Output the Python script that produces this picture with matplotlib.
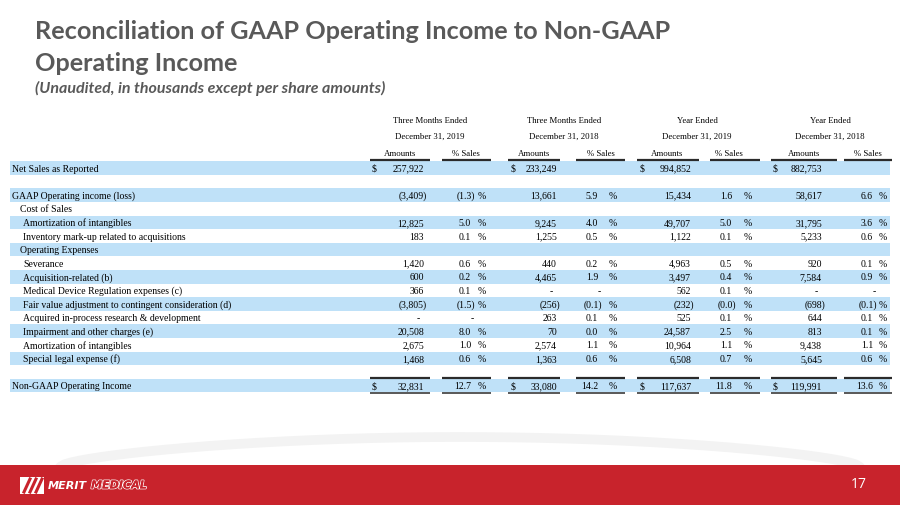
import numpy as np
import matplotlib
matplotlib.use("Agg")
import matplotlib.pyplot as plt
from matplotlib.patches import Rectangle
import matplotlib.patheffects as pe

# ---- data ----
row_labels = ["Net Sales as Reported", "", "GAAP Operating income (loss)", "Cost of Sales",
              "Amortization of intangibles", "Inventory mark-up related to acquisitions",
              "Operating Expenses", "Severance", "Acquisition-related (b)",
              "Medical Device Regulation expenses (c)",
              "Fair value adjustment to contingent consideration (d)",
              "Acquired in-process research & development", "Impairment and other charges (e)",
              "Amortization of intangibles", "Special legal expense (f)", "",
              "Non-GAAP Operating Income"]
row_indent = [0, 0, 0, 1, 2, 2, 1, 2, 2, 2, 2, 2, 2, 2, 2, 0, 0]
row_band = [1, 0, 1, 0, 1, 0, 1, 0, 1, 0, 1, 0, 1, 0, 1, 0, 1]

period_top = ["Three Months Ended", "Three Months Ended", "Year Ended", "Year Ended"]
period_bottom = ["December 31, 2019", "December 31, 2018", "December 31, 2019", "December 31, 2018"]

q4_19_amt = [257922, None, -3409, None, 12825, 183, None, 1420, 600, 366, -3805, "-", 20508, 2675, 1468, None, 32831]
q4_19_pct = [None, None, -1.3, None, 5.0, 0.1, None, 0.6, 0.2, 0.1, -1.5, "-", 8.0, 1.0, 0.6, None, 12.7]
q4_18_amt = [233249, None, 13661, None, 9245, 1255, None, 440, 4465, "-", -256, 263, 70, 2574, 1363, None, 33080]
q4_18_pct = [None, None, 5.9, None, 4.0, 0.5, None, 0.2, 1.9, "-", -0.1, 0.1, 0.0, 1.1, 0.6, None, 14.2]
fy19_amt = [994852, None, 15434, None, 49707, 1122, None, 4963, 3497, 562, -232, 525, 24587, 10964, 6508, None, 117637]
fy19_pct = [None, None, 1.6, None, 5.0, 0.1, None, 0.5, 0.4, 0.1, -0.0, 0.1, 2.5, 1.1, 0.7, None, 11.8]
fy18_amt = [882753, None, 58617, None, 31795, 5233, None, 920, 7584, "-", -698, 644, 813, 9438, 5645, None, 119991]
fy18_pct = [None, None, 6.6, None, 3.6, 0.6, None, 0.1, 0.9, "-", -0.1, 0.1, 0.1, 1.1, 0.6, None, 13.6]

amt_cols = [q4_19_amt, q4_18_amt, fy19_amt, fy18_amt]
pct_cols = [q4_19_pct, q4_18_pct, fy19_pct, fy18_pct]
dollar_rows = [0, 16]

# ---- layout (pixels) ----
W, H = 900, 506
fig = plt.figure(figsize=(9, 5.06), dpi=100)
ax = fig.add_axes([0, 0, 1, 1])
ax.set_xlim(0, W)
ax.set_ylim(H, 0)
ax.axis("off")

serif = "Liberation Serif"
fs = 7.0
grey = "#595959"
blue = "#bfe1f8"
dark = "#2b2b2b"

# title
ax.text(35, 31, "Reconciliation of GAAP Operating Income to Non-GAAP", fontsize=18.2,
        fontweight="bold", family="Lato", color=grey, va="center")
ax.text(35, 63, "Operating Income", fontsize=18.2, fontweight="bold", family="Lato",
        color=grey, va="center")
ax.text(35, 88, "(Unaudited, in thousands except per share amounts)", fontsize=11.5,
        fontweight="bold", style="italic", family="Lato", color=grey, va="center")

group_center = [430, 564, 697, 830]
amt_center = [400, 534, 667, 804]
pct_center = [466, 601, 729, 868]
amt_line = [(370, 430), (508, 560), (637, 699), (771, 837)]
pct_line = [(442, 491), (576, 625), (710, 760), (844, 892)]
dollar_x = [372, 511, 640, 773]
amt_right = [424, 557, 691, 822]
pct_num_right = [471, 598, 732, 873]
pct_sign_right = [486, 617, 752, 887]

for g in range(4):
    ax.text(group_center[g], 121, period_top[g], fontsize=6.3, family=serif, ha="center", va="center")
    ax.text(group_center[g], 137, period_bottom[g], fontsize=6.3, family=serif, ha="center", va="center")
    ax.text(amt_center[g], 154, "Amounts", fontsize=6.3, family=serif, ha="center", va="center")
    ax.text(pct_center[g], 154, "% Sales", fontsize=6.3, family=serif, ha="center", va="center")
    for seg in (amt_line[g], pct_line[g]):
        ax.plot(seg, [161, 161], color=dark, lw=1.6, solid_capstyle="butt")

y0 = 169
pitch = 13.6
indent_x = [12, 20, 23]

for i, lab in enumerate(row_labels):
    y = y0 + i * pitch
    if row_band[i]:
        ax.add_patch(Rectangle((10, y - pitch / 2), 880, pitch, facecolor=blue, edgecolor="none", zorder=0))
    if lab:
        ax.text(indent_x[row_indent[i]], y, lab, fontsize=fs, family=serif, va="center")
    for g in range(4):
        a = amt_cols[g][i]
        p = pct_cols[g][i]
        if a is not None:
            if a == "-":
                ax.text(amt_right[g] - 4, y, "-", fontsize=fs, family=serif, ha="right", va="center")
            elif a < 0:
                ax.text(amt_right[g] + 3, y, f"({-a:,})", fontsize=fs, family=serif, ha="right", va="center")
            else:
                ax.text(amt_right[g], y, f"{a:,}", fontsize=fs, family=serif, ha="right", va="center")
            if i in dollar_rows:
                ax.text(dollar_x[g], y, "$", fontsize=fs, family=serif, ha="left", va="center")
        if p is not None:
            if p == "-":
                ax.text(pct_num_right[g] + 3, y, "-", fontsize=fs, family=serif, ha="right", va="center")
            else:
                if np.signbit(p):
                    ax.text(pct_num_right[g] + 4, y, f"({abs(p):.1f})", fontsize=fs, family=serif,
                            ha="right", va="center")
                else:
                    ax.text(pct_num_right[g], y, f"{p:.1f}", fontsize=fs, family=serif,
                            ha="right", va="center")
                ax.text(pct_sign_right[g], y, "%", fontsize=fs, family=serif, ha="right", va="center")

# total row rules
yt = y0 + 16 * pitch
for g in range(4):
    for seg in (amt_line[g], pct_line[g]):
        ax.plot(seg, [yt - 8, yt - 8], color=dark, lw=1.6, solid_capstyle="butt")
        ax.plot(seg, [yt + 7.5, yt + 7.5], color=dark, lw=1.1, solid_capstyle="butt")

# faint background swoosh
t = np.linspace(0, 1, 200)
ax.plot(60 + 800 * t, 468 - 30 * np.sin(np.pi * t) ** 0.6, color="#f3f3f3", lw=7, zorder=-1,
        solid_capstyle="round")

# footer
red = "#c8232c"
ax.add_patch(Rectangle((0, 466), W, 40, facecolor=red, edgecolor="none"))
ax.add_patch(Rectangle((20, 478), 24, 17, facecolor="white", edgecolor="none"))
for k in range(3):
    ax.plot([24 + 6 * k, 30 + 6 * k], [493, 480], color=red, lw=2.2)
ax.text(48, 486.5, "MERIT", fontsize=8, fontweight="black", style="italic", family="DejaVu Sans",
        color="white", va="center")
ax.text(91, 486.5, "MEDICAL", fontsize=8, fontweight="bold", style="italic", family="DejaVu Sans",
        color=red, va="center",
        path_effects=[pe.withStroke(linewidth=1.2, foreground="white"), pe.Normal()])
ax.text(859, 485, "17", fontsize=10, family="Open Sans", color="white", ha="center", va="center")

fig.savefig("out.png", dpi=100, facecolor="white")
